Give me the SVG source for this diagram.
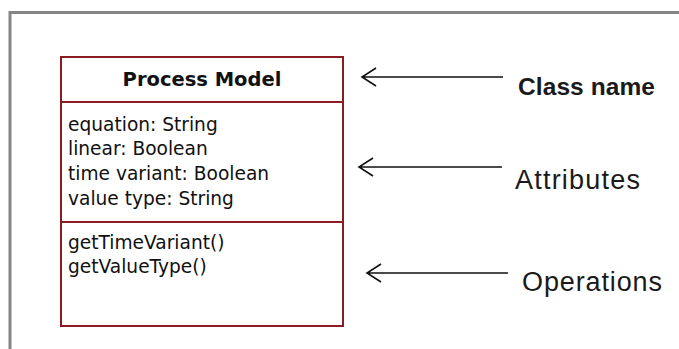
<svg xmlns="http://www.w3.org/2000/svg" width="679" height="349" viewBox="0 0 679 349">
<style>
.frame{fill:none;stroke:#858585;stroke-width:3}
.box{fill:#fff;stroke:#8a1c22;stroke-width:2}
.sep{stroke:#8a1c22;stroke-width:2}
.t{font-family:"DejaVu Sans",Verdana,sans-serif;font-size:18.6px;fill:#111}
.tb{font-family:"DejaVu Sans",Verdana,sans-serif;font-size:19.5px;font-weight:bold;fill:#111}
.lbl{font-family:"Liberation Sans",Arial,sans-serif;font-size:27px;fill:#1a1a1a}
.lblb{font-family:"Liberation Sans",Arial,sans-serif;font-size:24.5px;font-weight:bold;fill:#1a1a1a}
.arr{fill:none;stroke:#111;stroke-width:1.6}
</style>
<rect width="679" height="349" fill="#fff"/>
<path class="frame" d="M10,349 V12.5 H679"/>
<g id="class-process-model">
<rect class="box" x="61" y="57" width="282" height="269"/>
<line class="sep" x1="61" y1="102" x2="343" y2="102"/>
<line class="sep" x1="61" y1="222" x2="343" y2="222"/>
<text class="tb" x="202" y="86" text-anchor="middle">Process Model</text>
<text class="t" x="68" y="131">equation: String</text>
<text class="t" x="68" y="155">linear: Boolean</text>
<text class="t" x="68" y="180">time variant: Boolean</text>
<text class="t" x="68" y="205">value type: String</text>
<text class="t" x="68" y="249">getTimeVariant()</text>
<text class="t" x="68" y="273">getValueType()</text>
</g>
<g id="label-class-name"><text class="lblb" x="518" y="95" textLength="137">Class name</text></g>
<g id="label-attributes"><text class="lbl" x="515" y="189" textLength="125">Attributes</text></g>
<g id="label-operations"><text class="lbl" x="522" y="291" textLength="140">Operations</text></g>
<g id="connectors">
<path class="arr" d="M503,77 H362 M376,68 L362,77 L376,86"/>
<path class="arr" d="M502,167 H359 M373,158 L359,167 L373,176"/>
<path class="arr" d="M508,273 H367 M381,264 L367,273 L381,282"/>
</g>
</svg>
